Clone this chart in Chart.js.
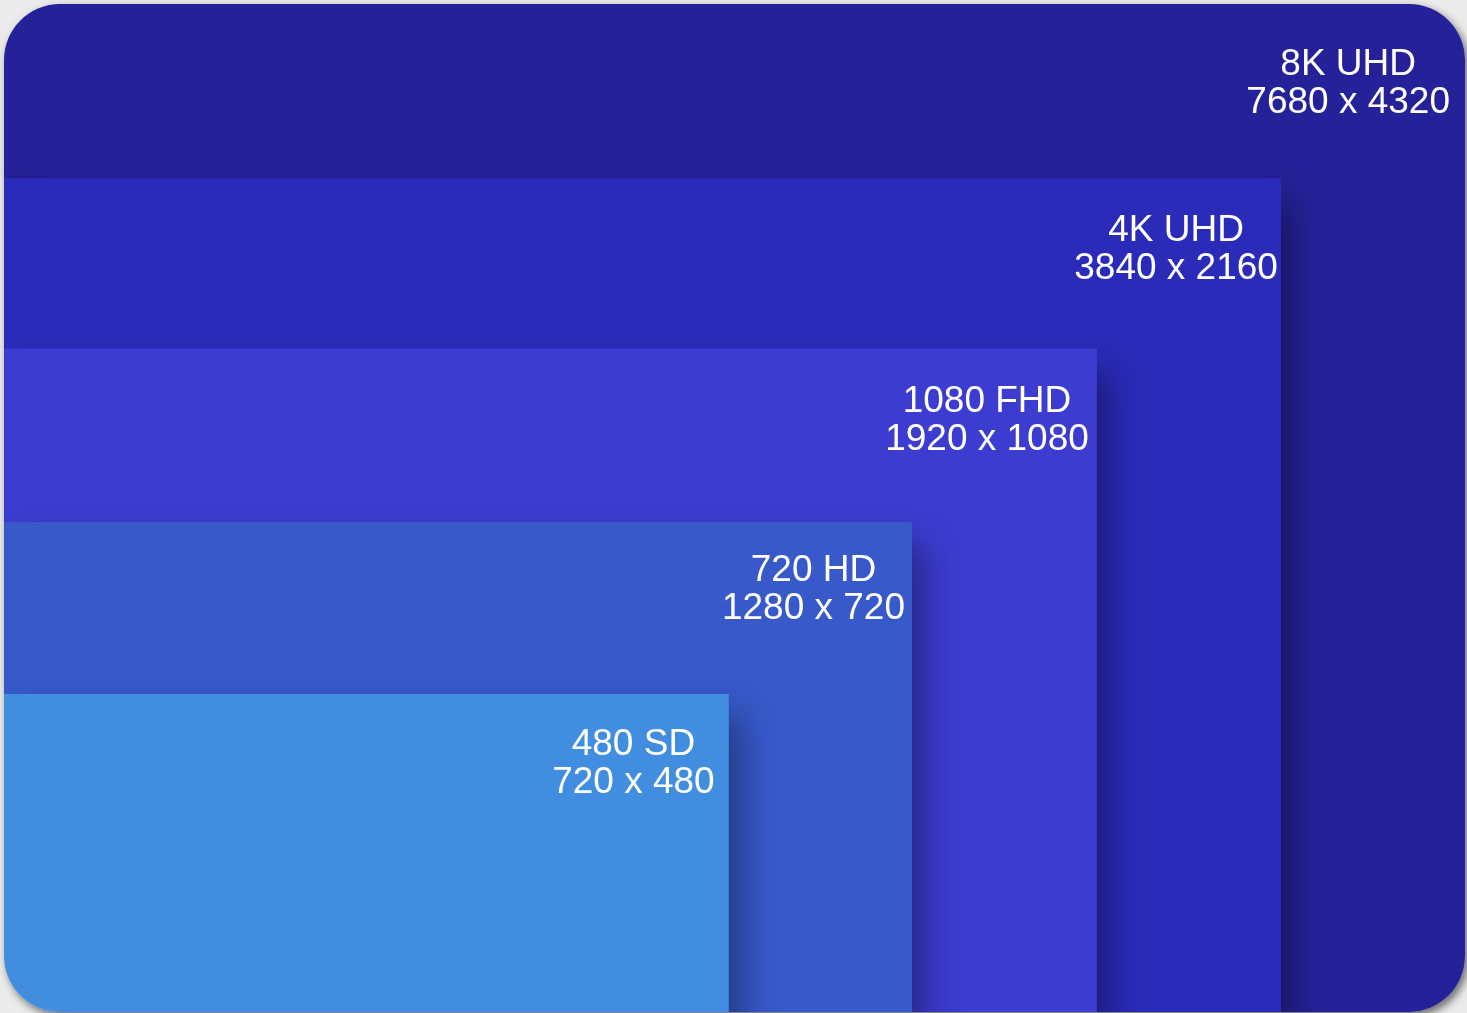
<!DOCTYPE html>
<html>
<head>
<meta charset="utf-8">
<script src="https://cdn.jsdelivr.net/npm/chart.js@4/dist/chart.umd.min.js"></script>
<style>
  html, body { margin: 0; padding: 0; background: #ebebeb; }
  #card {
    position: absolute; left: 4px; top: 4px; width: 1461px; height: 1008px;
    border-radius: 56px; overflow: hidden;
    box-shadow: 3px 4px 8px rgba(0, 0, 0, 0.55);
  }
</style>
</head>
<body>
<div id="card"><canvas id="chart"></canvas></div>
<script>
// formats, smallest first (drawn on top)
const formats = ["480 SD", "720 HD", "1080 FHD", "4K UHD", "8K UHD"];
const resolutions = ["720 x 480", "1280 x 720", "1920 x 1080", "3840 x 2160", "7680 x 4320"];
// box extents as shown in the diagram (share of full frame)
const boxWidth = [0.496, 0.6215, 0.748, 0.874, 1];
const boxHeight = [0.3155, 0.486, 0.658, 0.827, 1];
const colors = ["#418ddf", "#3759c9", "#3c3cd0", "#2a2bb8", "#252299"];

// label placement tweaks: gap to the box's right edge, drop from its top
const labelPad = [14, 7, 8, 3, 15];
const labelDrop = [49, 47, 51, 50, 59];

// soft shadow to the right of each box, drawn just before the box itself
const shadowPlugin = {
  id: "boxShadow",
  afterDatasetDraw(chart, args) {
    const i = args.index - 1;
    if (i < 0) return;
    const ctx = chart.ctx;
    const xs = chart.scales.x;
    const ys = chart.scales.y;
    const area = chart.chartArea;
    const left = xs.getPixelForValue(0);
    const right = xs.getPixelForValue(boxWidth[i]);
    const top = ys.getPixelForValue(boxHeight[i]);
    const bottom = ys.getPixelForValue(0);
    ctx.save();
    ctx.beginPath();
    ctx.rect(area.left, area.top, area.right - area.left, area.bottom - area.top);
    ctx.clip();
    ctx.shadowColor = "rgba(0, 0, 0, 0.36)";
    ctx.shadowBlur = 32;
    ctx.shadowOffsetX = 12;
    ctx.shadowOffsetY = 22;
    ctx.fillStyle = colors[i];
    ctx.fillRect(left, top, right - left, bottom - top + 40);
    ctx.restore();
  },
};

const labelPlugin = {
  id: "boxLabels",
  afterDraw(chart) {
    const ctx = chart.ctx;
    const xs = chart.scales.x;
    const ys = chart.scales.y;
    ctx.save();
    ctx.fillStyle = "#ffffff";
    ctx.font = '37px "Liberation Sans", Arial, sans-serif';
    ctx.textAlign = "center";
    ctx.textBaseline = "middle";
    formats.forEach((name, i) => {
      const right = xs.getPixelForValue(boxWidth[i]);
      const top = ys.getPixelForValue(boxHeight[i]);
      const w = Math.max(ctx.measureText(name).width, ctx.measureText(resolutions[i]).width);
      const cx = right - labelPad[i] - w / 2;
      ctx.fillText(name, cx, top + labelDrop[i] + 2);
      ctx.fillText(resolutions[i], cx, top + labelDrop[i] + 40);
    });
    ctx.restore();
  },
};

new Chart(document.getElementById("chart"), {
  type: "line",
  data: {
    datasets: formats.map((name, i) => ({
      label: name,
      data: [
        { x: 0, y: boxHeight[i] },
        { x: boxWidth[i], y: boxHeight[i] },
      ],
      fill: "origin",
      backgroundColor: colors[i],
      borderColor: "transparent",
      borderWidth: 0,
      pointRadius: 0,
    })),
  },
  options: {
    responsive: true,
    maintainAspectRatio: false,
    animation: false,
    layout: { padding: 0 },
    scales: {
      x: { type: "linear", min: 0, max: 1, display: false },
      y: { type: "linear", min: 0, max: 1, display: false },
    },
    plugins: {
      legend: { display: false },
      tooltip: { enabled: false },
    },
  },
  plugins: [shadowPlugin, labelPlugin],
});
</script>
</body>
</html>
